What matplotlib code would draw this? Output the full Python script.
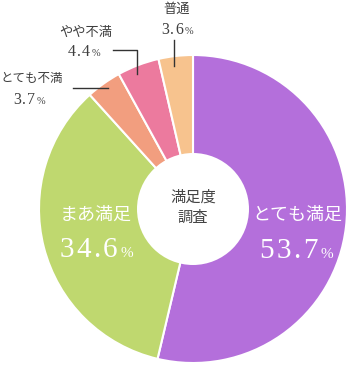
import matplotlib.pyplot as plt
from matplotlib.patches import Circle

plt.rcParams['font.family'] = ['Liberation Serif', 'Noto Sans CJK JP']

labels = ['とても満足', 'まあ満足', 'とても不満', 'やや不満', '普通']
values = [53.7, 34.6, 3.7, 4.4, 3.6]
colors = ['#b46fdb', '#bfd86f', '#f29e7f', '#ec7a9e', '#f7c38e']

W, H = 349, 365
fig = plt.figure(figsize=(W / 100, H / 100), dpi=100)
ax = fig.add_axes([0, 0, 1, 1])

cx, cy, r = 193, H - 209, 154
ax.pie(values, colors=colors, startangle=90, counterclock=False,
       center=(cx, cy), radius=r, frame=True,
       wedgeprops=dict(edgecolor='white', linewidth=1.5))
ax.set_xlim(0, W)
ax.set_ylim(0, H)
ax.set_aspect('equal')
ax.axis('off')
ax.add_patch(Circle((cx, cy), 56, facecolor='white', edgecolor='none', zorder=5))

renderer = fig.canvas.get_renderer()


def Y(py):
    return H - py


def tracked(x0, py, s, size, track, color):
    # draw characters one by one with extra letter spacing, from left x0
    x = x0
    for ch in s:
        t = ax.text(x, Y(py), ch, ha='left', va='baseline', fontsize=size,
                    color=color, zorder=6)
        w = t.get_window_extent(renderer).width
        x += w + track
    return x


def measure(s, size, track):
    total = 0
    for ch in s:
        t = ax.text(0, 0, ch, fontsize=size)
        total += t.get_window_extent(renderer).width + track
        t.remove()
    return total


def pct(xc, py, num, size, track, color, psize):
    # number + small % sign, centred on xc, py is the baseline
    wn = measure(num, size, track)
    wp = measure('%', psize, 0)
    x = xc - (wn + wp) / 2
    x = tracked(x, py, num, size, track, color)
    ax.text(x, Y(py), '%', ha='left', va='baseline', fontsize=psize,
            color=color, zorder=6)


# centre text
ax.text(cx, Y(197), '満足度', ha='center', va='center', fontsize=11,
        color='#444444', zorder=6)
ax.text(cx, Y(218), '調査', ha='center', va='center', fontsize=11,
        color='#444444', zorder=6)

# inside labels
ax.text(297, Y(215), labels[0], ha='center', va='center', fontsize=13,
        color='white', zorder=6)
pct(296, 258, f'{values[0]}', 21, 2.5, 'white', 11)
ax.text(96, Y(215), labels[1], ha='center', va='center', fontsize=13,
        color='white', zorder=6)
pct(96, 257, f'{values[1]}', 21, 2.5, 'white', 11)

# outside labels
tc = '#3f3f3f'
ax.text(32, Y(79), labels[2], ha='center', va='center', fontsize=9, color=tc)
pct(29, 104, f'{values[2]}', 11.5, 1.2, tc, 7.5)
ax.text(86, Y(33), labels[3], ha='center', va='center', fontsize=9.5, color=tc)
pct(84, 56, f'{values[3]}', 11.5, 1.2, tc, 7.5)
ax.text(177, Y(10), labels[4], ha='center', va='center', fontsize=9.5, color=tc)
pct(177, 34, f'{values[4]}', 11.5, 1.2, tc, 7.5)

# leader lines
lc = '#333333'
ax.plot([73, 108], [Y(88), Y(88)], color=lc, lw=1, zorder=6)
ax.plot([113, 137, 137], [Y(50), Y(50), Y(74)], color=lc, lw=1, zorder=6)
ax.plot([174, 174], [Y(40), Y(66)], color=lc, lw=1, zorder=6)

fig.savefig('out.png', dpi=100)
